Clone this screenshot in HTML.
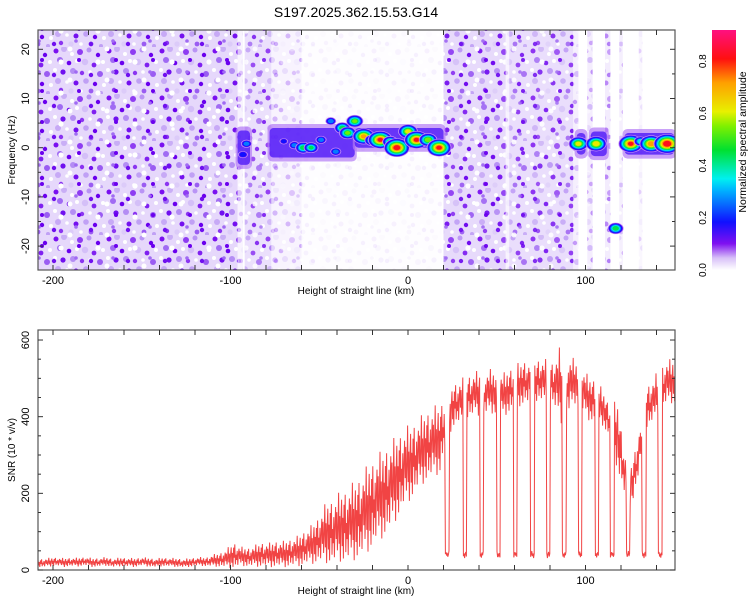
<!DOCTYPE html>
<html><head><meta charset="utf-8"><style>
body{margin:0;background:#fff;}
svg{display:block;font-family:"Liberation Sans",sans-serif;}
</style></head><body>
<svg id="chart" width="750" height="600" viewBox="0 0 750 600">
<defs>
<clipPath id="clipTop"><rect x="38" y="30" width="637" height="240"/></clipPath>
<clipPath id="clipBot"><rect x="38" y="330" width="637" height="240"/></clipPath>
<pattern id="noise" width="53" height="47" patternUnits="userSpaceOnUse">
<rect width="53" height="47" fill="#e6d8fb"/>
<circle cx="3" cy="4" r="2.5" fill="#7a10f0"/><circle cx="11" cy="2" r="3" fill="#c9aef6"/>
<circle cx="19" cy="7" r="2" fill="#fff"/><circle cx="27" cy="5" r="3" fill="#8e3cf2"/>
<circle cx="36" cy="3" r="2.5" fill="#b994f5"/><circle cx="45" cy="8" r="2.2" fill="#6a00ee"/>
<circle cx="7" cy="13" r="3" fill="#a06af3"/><circle cx="16" cy="16" r="2.3" fill="#6a00ee"/>
<circle cx="24" cy="14" r="2" fill="#fff"/><circle cx="32" cy="15" r="3.2" fill="#d4bff8"/>
<circle cx="41" cy="18" r="2.4" fill="#7f20f0"/><circle cx="50" cy="15" r="2" fill="#fff"/>
<circle cx="2" cy="23" r="2" fill="#fff"/><circle cx="10" cy="25" r="2.6" fill="#7010ef"/>
<circle cx="20" cy="24" r="3" fill="#b48df4"/><circle cx="29" cy="26" r="2.2" fill="#8b35f1"/>
<circle cx="37" cy="25" r="1.8" fill="#fff"/><circle cx="47" cy="27" r="3" fill="#9a5cf2"/>
<circle cx="5" cy="34" r="3" fill="#c7a9f6"/><circle cx="14" cy="35" r="1.8" fill="#fff"/>
<circle cx="23" cy="36" r="2.5" fill="#7410ef"/><circle cx="33" cy="34" r="2.8" fill="#c0a0f5"/>
<circle cx="42" cy="37" r="2.2" fill="#6a00ee"/><circle cx="51" cy="38" r="2" fill="#fff"/>
<circle cx="8" cy="43" r="2.2" fill="#8b35f1"/><circle cx="18" cy="44" r="2.6" fill="#dccbf9"/>
<circle cx="28" cy="44" r="1.8" fill="#fff"/><circle cx="38" cy="44" r="2.4" fill="#9a5cf2"/>
<circle cx="48" cy="46" r="2" fill="#c0a0f5"/>
</pattern>
<pattern id="noise2" width="37" height="31" patternUnits="userSpaceOnUse" patternTransform="translate(11,7)">
<circle cx="6" cy="6" r="2.2" fill="#7010ef"/><circle cx="22" cy="11" r="2.5" fill="#ffffff"/>
<circle cx="31" cy="22" r="2" fill="#6a00ee"/><circle cx="13" cy="24" r="2.6" fill="#ffffff"/>
<circle cx="28" cy="3" r="1.8" fill="#a06af3"/>
</pattern>
<linearGradient id="cbar" x1="0" y1="1" x2="0" y2="0">
<stop offset="0" stop-color="#ffffff"/><stop offset="0.05" stop-color="#d8c0f8"/>
<stop offset="0.11" stop-color="#7f10f0"/><stop offset="0.2" stop-color="#1010ff"/>
<stop offset="0.33" stop-color="#00b0ff"/><stop offset="0.38" stop-color="#00f0f0"/>
<stop offset="0.5" stop-color="#00e030"/><stop offset="0.6" stop-color="#80f000"/>
<stop offset="0.66" stop-color="#e8f000"/><stop offset="0.78" stop-color="#ffa000"/>
<stop offset="0.88" stop-color="#ff1010"/><stop offset="1" stop-color="#ff1080"/>
</linearGradient>
</defs>
<text x="356" y="17" text-anchor="middle" font-size="14">S197.2025.362.15.53.G14</text>
<g id="topPanel"></g>
<g id="botPanel"></g>
<g id="cbPanel"></g>
</svg>
<script>
// ---- data ----
const xTicks = [-200, -100, 0, 100];
const freqTicks = [20, 10, 0, -10, -20];
const snrTicks = [0, 200, 400, 600];
const cbTicks = [0.0, 0.2, 0.4, 0.6, 0.8];
// noise regions
const noiseStart = [-210, -96, -92, -77, -60, 20, 55, 57, 93, 101, 111, 119, 130];
const noiseEnd   = [-96, -93, -77, -60, 19, 55, 57, 93, 96, 104, 114, 121, 132];
const noiseDens  = [1.0, 0.3, 0.8, 0.3, 0.06, 0.95, 0.3, 0.85, 0.4, 0.45, 0.5, 0.4, 0.2];
// ridge bands
const bandStart = [-96, -78, -30, 95, 103, 122];
const bandEnd   = [-89, -30, 20, 100, 112, 150];
const bandHz    = [0, 1.0, 2, 0.8, 0.8, 0.8];
const bandHalf  = [3.5, 3, 2, 2.2, 2.5, 2.2];
// spectral peaks
const peakKm  = [-91, -93, -70, -64, -59, -54.6, -49, -43.5, -40.7, -37, -34, -30, -25, -20, -15.6, -10, -6.3, 0, 4.8, 11.3, 17.5, 96, 106, 117, 125.5, 131, 137, 146];
const peakHz  = [0.8, -1.4, 1.3, 0.5, 0, 0, 1.6, 5.4, -0.8, 4, 3, 5.4, 2.3, 1.5, 1.6, 1.2, 0, 3.3, 1.6, 1.6, 0, 0.8, 0.8, -16.4, 0.8, 1.3, 0.8, 0.8];
const peakAmp = [0.3, 0.25, 0.2, 0.3, 0.5, 0.45, 0.3, 0.3, 0.3, 0.5, 0.55, 0.55, 0.75, 0.5, 0.85, 0.5, 0.9, 0.65, 0.85, 0.6, 0.85, 0.65, 0.7, 0.5, 0.85, 0.4, 0.8, 0.95];
// SNR every 4 km from -206
const snrStartKm = -206;
const snrStepKm = 4;
const snrMean = [18,20,22,19,21,20,23,19,20,22,18,21,20,19,22,20,18,21,20,19,17,20,22,21,
 24,26,30,38,35,33,36,40,38,42,40,45,48,58,65,80,95,100,110,115,125,140,160,180,195,215,240,265,280,300,320,330,340,
 400,430,440,450,460,455,465,460,455,470,480,490,485,495,490,485,480,480,490,470,445,440,420,380,350,250,220,300,420,440,470,490];
const snrSpread = [10,10,10,10,10,10,10,10,10,10,10,10,10,10,10,10,10,10,10,10,10,10,10,10,
 14,16,22,30,22,22,25,28,28,30,30,32,35,40,45,55,70,75,80,85,90,95,100,100,100,100,95,90,85,80,80,80,80,
 50,50,50,50,50,50,50,50,50,50,50,50,50,50,50,50,90,70,50,50,50,50,40,40,80,50,50,50,50,50,50,50];
const dropKm = [22, 32, 41.5, 51, 60.5, 70, 79, 88, 97, 106.5, 115, 124, 133, 142];
const dropLevel = 40;

const NS = 'http://www.w3.org/2000/svg';
const X0 = 38, X1 = 675;
const xS = km => 408 + km * 1.775;
const yF = hz => 147.7 - hz * 4.92;
const yS = v => 570 - v * 0.3833;
const yC = v => 270 - v * 261;
function mk(tag, attrs, parent) {
  const e = document.createElementNS(NS, tag);
  for (const k in attrs) e.setAttribute(k, attrs[k]);
  parent.appendChild(e);
  return e;
}
const cstops = [[0,[255,255,255]],[0.05,[216,192,248]],[0.1,[127,16,240]],[0.18,[16,16,255]],[0.3,[0,176,255]],[0.35,[0,240,240]],[0.46,[0,224,48]],[0.55,[128,240,0]],[0.61,[232,240,0]],[0.72,[255,160,0]],[0.81,[255,16,16]],[0.92,[255,16,128]]];
function cmap(v) {
  for (let i = 1; i < cstops.length; i++) {
    if (v <= cstops[i][0]) {
      const a = cstops[i-1], b = cstops[i], t = (v - a[0]) / (b[0] - a[0]);
      const c = a[1].map((q, j) => Math.round(q + (b[1][j] - q) * t));
      return 'rgb(' + c.join(',') + ')';
    }
  }
  return 'rgb(255,16,128)';
}

// ---- top panel ----
const topPanel = document.getElementById('topPanel');
const tg = mk('g', {'clip-path': 'url(#clipTop)'}, topPanel);
noiseStart.forEach((s, i) => {
  const r = mk('rect', {x: xS(s), y: 30, width: xS(noiseEnd[i]) - xS(s), height: 240, fill: 'url(#noise)', opacity: noiseDens[i]}, tg);
  
  
  mk('rect', {x: xS(s), y: 30, width: xS(noiseEnd[i]) - xS(s), height: 240, fill: 'url(#noise2)', opacity: noiseDens[i]}, tg);
});
bandStart.forEach((s, i) => {
  const x = xS(s), w = xS(bandEnd[i]) - x, y = yF(bandHz[i] + bandHalf[i]), h = yF(bandHz[i] - bandHalf[i]) - y;
  const o = mk('rect', {x: x - 2, y: y - 4, width: w + 4, height: h + 8, rx: 5, fill: cmap(0.07), opacity: 0.7}, tg);
  
  
  const r = mk('rect', {x: x, y: y, width: w, height: h, rx: 4, fill: cmap(0.14), opacity: 0.75}, tg);
  
  
});
const levels = [0.06, 0.12, 0.18, 0.26, 0.34, 0.44, 0.54, 0.62, 0.72, 0.82];
peakKm.forEach((k, i) => {
  const a = peakAmp[i], cx = xS(k), cy = yF(peakHz[i]);
  const g = mk('g', {}, tg);
  
  
  levels.filter(L => L <= a).forEach(L => {
    const rx = 2 + (a - L) * 10;
    mk('ellipse', {cx: cx, cy: cy, rx: rx * 1.25, ry: rx * 0.9, fill: cmap(L)}, g);
  });
});
mk('rect', {x: 38, y: 30, width: 637, height: 240, fill: 'none', stroke: '#555', 'stroke-width': 1.2}, topPanel);
for (let k = -200; k <= 140; k += 20) {
  mk('line', {x1: xS(k), x2: xS(k), y1: 270, y2: 265, stroke: '#333'}, topPanel);
  mk('line', {x1: xS(k), x2: xS(k), y1: 30, y2: 35, stroke: '#333'}, topPanel);
}
for (let f = -20; f <= 20; f += 5) {
  const L = f % 10 === 0 ? 5 : 3;
  mk('line', {x1: 38, x2: 38 + L, y1: yF(f), y2: yF(f), stroke: '#333'}, topPanel);
  mk('line', {x1: 675, x2: 675 - L, y1: yF(f), y2: yF(f), stroke: '#333'}, topPanel);
}
xTicks.forEach(k => {
  const t = mk('text', {x: xS(k), y: 284, 'text-anchor': 'middle', 'font-size': 11}, topPanel);
  t.textContent = k;
  
  
});
freqTicks.forEach(f => {
  const t = mk('text', {x: 0, y: 0, 'text-anchor': 'middle', 'font-size': 11, transform: `translate(29,${yF(f)}) rotate(-90)`}, topPanel);
  t.textContent = f;
  
  
});
const xt1 = mk('text', {x: 356, y: 294, 'text-anchor': 'middle', 'font-size': 10}, topPanel);
xt1.textContent = 'Height of straight line (km)';


const yt1 = mk('text', {x: 0, y: 0, 'text-anchor': 'middle', 'font-size': 10, transform: 'translate(15,150) rotate(-90)'}, topPanel);
yt1.textContent = 'Frequency (Hz)';



// ---- colorbar ----
const cbPanel = document.getElementById('cbPanel');
mk('rect', {x: 712, y: 30, width: 24, height: 240, fill: 'url(#cbar)'}, cbPanel);
cbTicks.forEach(v => {
  const t = mk('text', {x: 0, y: 0, 'text-anchor': 'middle', 'font-size': 10, transform: `translate(706,${yC(v)}) rotate(-90)`}, cbPanel);
  t.textContent = v.toFixed(1);
  
  
});
const ct = mk('text', {x: 0, y: 0, 'text-anchor': 'middle', 'font-size': 10.5, transform: 'translate(746,142) rotate(-90)'}, cbPanel);
ct.textContent = 'Normalized spectral amplitude';



// ---- bottom panel ----
const botPanel = document.getElementById('botPanel');
const bg = mk('g', {'clip-path': 'url(#clipBot)'}, botPanel);
const cyc = [0.9, -0.6, 0.3, -1, 0.7, -0.2, 1, -0.8, 0.1, -0.4, 0.5, -0.9, 0.2, 0.8, -0.3, 0.6, -0.7, 0.0, 1.2, -0.5, 0.4, -1.1, 0.3];
function snrAt(km) {
  let fi = (km - snrStartKm) / snrStepKm;
  fi = Math.max(0, Math.min(snrMean.length - 1, fi));
  const i = Math.floor(fi), j = Math.min(snrMean.length - 1, i + 1), t = fi - i;
  return [snrMean[i] + (snrMean[j] - snrMean[i]) * t, snrSpread[i] + (snrSpread[j] - snrSpread[i]) * t];
}
const snrPts = [];
let n = 0;
for (let px = X0; px <= X1; px += 0.6, n++) {
  const km = (px - 408) / 1.775;
  let [m, s] = snrAt(km);
  if (dropKm.some(d => Math.abs(km - d) < 1.1)) { m = dropLevel; s = 8; }
  const v = Math.max(2, m + s * cyc[n % cyc.length]);
  snrPts.push(px.toFixed(1) + ',' + yS(v).toFixed(1));
}
const snrLine = mk('polyline', {points: snrPts.join(' '), fill: 'none', stroke: '#f03030', 'stroke-width': 1, 'stroke-opacity': 0.9}, bg);


mk('rect', {x: 38, y: 330, width: 637, height: 240, fill: 'none', stroke: '#555', 'stroke-width': 1.2}, botPanel);
for (let k = -200; k <= 140; k += 20) {
  mk('line', {x1: xS(k), x2: xS(k), y1: 570, y2: 565, stroke: '#333'}, botPanel);
  mk('line', {x1: xS(k), x2: xS(k), y1: 330, y2: 335, stroke: '#333'}, botPanel);
}
for (let v = 0; v <= 600; v += 50) {
  const L = v % 200 === 0 ? 5 : 3;
  mk('line', {x1: 38, x2: 38 + L, y1: yS(v), y2: yS(v), stroke: '#333'}, botPanel);
  mk('line', {x1: 675, x2: 675 - L, y1: yS(v), y2: yS(v), stroke: '#333'}, botPanel);
}
xTicks.forEach(k => {
  const t = mk('text', {x: xS(k), y: 584, 'text-anchor': 'middle', 'font-size': 11}, botPanel);
  t.textContent = k;
  
  
});
snrTicks.forEach(v => {
  const t = mk('text', {x: 0, y: 0, 'text-anchor': 'middle', 'font-size': 11, transform: `translate(29,${yS(v)}) rotate(-90)`}, botPanel);
  t.textContent = v;
  
  
});
const xt2 = mk('text', {x: 356, y: 594, 'text-anchor': 'middle', 'font-size': 10}, botPanel);
xt2.textContent = 'Height of straight line (km)';


const yt2 = mk('text', {x: 0, y: 0, 'text-anchor': 'middle', 'font-size': 10, transform: 'translate(15,450) rotate(-90)'}, botPanel);
yt2.textContent = 'SNR (10 * v/v)';


</script>
</body></html>
